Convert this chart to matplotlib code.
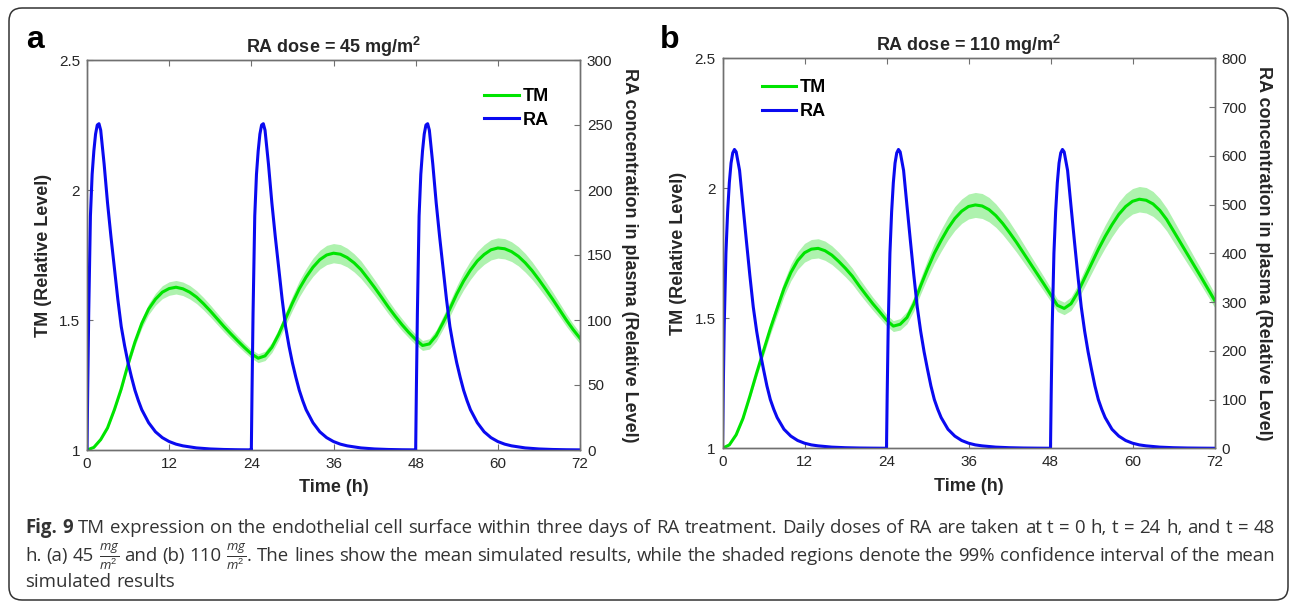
import matplotlib
matplotlib.use("Agg")
import matplotlib.pyplot as plt
from matplotlib.lines import Line2D
from matplotlib.patches import FancyBboxPatch
import numpy as np

# ---- data -----------------------------------------------------------------
hours = list(range(0, 73))

# TM mean (relative level), one value per hour
tm_a = [1.000, 1.010, 1.040, 1.085, 1.155, 1.235, 1.330, 1.415, 1.487, 1.542,
        1.580, 1.607, 1.621, 1.626, 1.620, 1.607, 1.588, 1.563, 1.535, 1.505,
        1.475, 1.447, 1.420, 1.394, 1.370, 1.353, 1.362, 1.395, 1.445, 1.505,
        1.565, 1.620, 1.665, 1.703, 1.732, 1.750, 1.757, 1.753, 1.740, 1.720,
        1.694, 1.660, 1.625, 1.588, 1.550, 1.515, 1.482, 1.452, 1.425, 1.402,
        1.408, 1.440, 1.490, 1.543, 1.600, 1.650, 1.692, 1.727, 1.752, 1.770,
        1.777, 1.774, 1.763, 1.745, 1.720, 1.690, 1.655, 1.618, 1.580, 1.540,
        1.500, 1.463, 1.430]
tm_b = [1.000, 1.013, 1.052, 1.115, 1.200, 1.290, 1.375, 1.460, 1.538, 1.614,
        1.676, 1.722, 1.752, 1.766, 1.769, 1.760, 1.743, 1.719, 1.692, 1.662,
        1.625, 1.590, 1.556, 1.525, 1.493, 1.470, 1.477, 1.503, 1.555, 1.625,
        1.690, 1.750, 1.800, 1.846, 1.884, 1.912, 1.930, 1.936, 1.932, 1.918,
        1.895, 1.865, 1.830, 1.793, 1.753, 1.713, 1.673, 1.633, 1.592, 1.550,
        1.538, 1.556, 1.600, 1.655, 1.710, 1.765, 1.815, 1.860, 1.900, 1.930,
        1.950, 1.958, 1.954, 1.940, 1.915, 1.880, 1.836, 1.792, 1.748, 1.704,
        1.660, 1.615, 1.570]

# half width of the 99% confidence band
ci_a = [0.000, 0.001, 0.002, 0.004, 0.006, 0.009, 0.012, 0.015, 0.018, 0.021,
        0.023, 0.025, 0.026, 0.026, 0.026, 0.026, 0.025, 0.024, 0.023, 0.022,
        0.021, 0.020, 0.019, 0.018, 0.017, 0.017, 0.018, 0.020, 0.022, 0.025,
        0.028, 0.031, 0.033, 0.035, 0.036, 0.037, 0.037, 0.037, 0.036, 0.035,
        0.034, 0.032, 0.030, 0.028, 0.026, 0.024, 0.023, 0.021, 0.020, 0.019,
        0.020, 0.022, 0.025, 0.028, 0.031, 0.034, 0.036, 0.037, 0.038, 0.039,
        0.039, 0.039, 0.038, 0.037, 0.036, 0.034, 0.032, 0.030, 0.028, 0.026,
        0.024, 0.022, 0.021]
ci_b = [0.000, 0.001, 0.003, 0.006, 0.010, 0.014, 0.018, 0.022, 0.026, 0.029,
        0.032, 0.034, 0.036, 0.037, 0.037, 0.037, 0.036, 0.035, 0.033, 0.031,
        0.029, 0.027, 0.025, 0.024, 0.022, 0.021, 0.022, 0.024, 0.027, 0.031,
        0.035, 0.039, 0.042, 0.044, 0.046, 0.047, 0.048, 0.048, 0.048, 0.047,
        0.045, 0.043, 0.041, 0.038, 0.035, 0.032, 0.030, 0.028, 0.026, 0.024,
        0.024, 0.026, 0.029, 0.033, 0.037, 0.041, 0.044, 0.046, 0.048, 0.049,
        0.049, 0.049, 0.049, 0.048, 0.046, 0.044, 0.042, 0.039, 0.036, 0.033,
        0.031, 0.029, 0.027]

# RA plasma concentration after each dose (hours since dose)
dose_times = [0, 24, 48]
since_dose = [0, 0.1, 0.25, 0.5, 0.75, 1.0, 1.25, 1.5, 1.75, 2.0, 2.5, 3.0,
              3.5, 4.0, 4.5, 5.0, 5.5, 6.0, 6.5, 7.0, 7.5, 8, 9, 10, 11, 12,
              13, 14, 16, 18, 20, 22, 24]
ra_a = [0, 45, 105, 180, 212, 230, 243, 250, 251, 246, 220, 190, 164, 140,
        116, 95, 80, 67, 56, 46, 38, 31, 21, 14, 9.5, 6.5, 4.5, 3.2, 1.6, 0.8,
        0.4, 0.2, 0.1]
ra_b = [0, 110, 250, 400, 485, 545, 585, 606, 613, 608, 570, 497, 425, 355,
        290, 240, 198, 162, 128, 100, 80, 63, 39, 25, 16, 10.5, 7, 5, 2.4, 1.2,
        0.6, 0.3, 0.1]

titles = ["RA dose = 45 mg/m$^{\\mathbf{2}}$", "RA dose = 110 mg/m$^{\\mathbf{2}}$"]
ra_max = [300, 800]
ra_step = [50, 100]

caption_lines = [
    "TM expression on the endothelial cell surface within three days of RA "
    "treatment. Daily doses of RA are taken at t = 0 h, t = 24 h, and t = 48",
    "h. (a) 45 $\\frac{mg}{m^2}$ and (b) 110 $\\frac{mg}{m^2}$. The lines show the "
    "mean simulated results, while the shaded regions denote the 99% confidence "
    "interval of the mean",
    "simulated results",
]

# ---- style -----------------------------------------------------------------
plt.rcParams['font.family'] = ['Liberation Sans', 'DejaVu Sans']
plt.rcParams['mathtext.fontset'] = 'custom'
plt.rcParams['mathtext.rm'] = 'Liberation Sans'
plt.rcParams['mathtext.bf'] = 'Liberation Sans:bold'
plt.rcParams['mathtext.it'] = 'Open Sans:italic'

GREEN = "#00e400"
BAND = "#aef2ae"
BLUE = "#0a0af0"
AXC = "#707070"
TXT = "#262626"

W, H = 1292, 603
fig = plt.figure(figsize=(W / 100, H / 100), dpi=100)
renderer = fig.canvas.get_renderer()

# rounded frame around the whole figure
frame = FancyBboxPatch((0.09, 0.03), 12.79, 5.92,
                       boxstyle="round,pad=0,rounding_size=0.13",
                       transform=fig.dpi_scale_trans, facecolor="none",
                       edgecolor="#333333", linewidth=1.1)
fig.add_artist(frame)

positions = [[87 / W, 1 - 450 / H, 493 / W, 390 / H],
             [722.5 / W, 1 - 448.3 / H, 492 / W, 390 / H]]
legend_anchor = [(0.806, 0.928), (0.080, 0.946)]
tm_series = [tm_a, tm_b]
ci_series = [ci_a, ci_b]
ra_series = [ra_a, ra_b]

for i in range(2):
    ax = fig.add_axes(positions[i])
    ax2 = ax.twinx()

    tm = np.array(tm_series[i])
    ci = np.array(ci_series[i])
    ax.fill_between(hours, tm - ci, tm + ci, color=BAND, linewidth=0)
    ax.plot(hours, tm, color=GREEN, linewidth=2.2)

    ra_t = []
    ra_v = []
    for d in dose_times:
        ra_t += [d + s for s in since_dose]
        ra_v += ra_series[i]
    ax2.plot(ra_t, ra_v, color=BLUE, linewidth=2.2)

    ax.set_xlim(0, 72)
    ax.set_ylim(1, 2.5)
    ax2.set_ylim(0, ra_max[i])
    ax.set_xticks(range(0, 73, 12))
    ax.set_yticks([1, 1.5, 2, 2.5])
    ax.set_yticklabels(["1", "1.5", "2", "2.5"])
    ax2.set_yticks(range(0, ra_max[i] + 1, ra_step[i]))

    for a in (ax, ax2):
        for sp in a.spines.values():
            sp.set_color(AXC)
            sp.set_linewidth(1.0)
        a.tick_params(direction="in", length=4, width=0.8, color=AXC,
                      labelsize=11, labelcolor=TXT, pad=5)
    ax.tick_params(axis="x", top=True)
    ax.tick_params(axis="y", right=False)

    ax.set_xlabel("Time (h)", fontsize=13, fontweight="bold", color=TXT,
                  labelpad=6)
    ax.set_ylabel("TM (Relative Level)", fontsize=13, fontweight="bold",
                  color=TXT, labelpad=5)
    ax2.set_ylabel("RA concentration in plasma (Relative Level)", fontsize=13,
                   fontweight="bold", color=TXT, rotation=270, va="bottom",
                   labelpad=6)
    ax.set_title(titles[i], fontsize=13, fontweight="bold", color=TXT, pad=5)

    handles = [Line2D([], [], color=GREEN, linewidth=2.2),
               Line2D([], [], color=BLUE, linewidth=2.2)]
    ax2.legend(handles, ["TM", "RA"], loc="upper left",
               bbox_to_anchor=legend_anchor[i], frameon=False,
               handlelength=1.9, handletextpad=0.2, borderpad=0,
               borderaxespad=0, labelspacing=0.37,
               prop={"weight": "bold", "size": 13})

# panel letters
fig.text(26 / W, 1 - 48 / H, "a", fontsize=23, fontweight="bold", va="baseline")
fig.text(660 / W, 1 - 48 / H, "b", fontsize=23, fontweight="bold", va="baseline")

# ---- caption (justified lines) ----------------------------------------------
cap_font = ["Open Sans", "DejaVu Sans"]
cap_col = "#333333"
cap_size = 13.4
cap_left, cap_right = 25, 1275
cap_base = [533, 561, 587]


def put_words(words, y_px, x0, x1, justify, first_bold=False):
    arts = []
    for k, w in enumerate(words):
        bold = first_bold and k < 2
        arts.append(fig.text(0, 1 - y_px / H, w, fontsize=cap_size,
                             fontweight="bold" if bold else "normal",
                             family=cap_font, color=cap_col, va="baseline"))
    widths = [a.get_window_extent(renderer).width for a in arts]
    probe_ab = fig.text(0, 0, "a b", fontsize=cap_size, family=cap_font)
    probe_a = fig.text(0, 0, "a", fontsize=cap_size, family=cap_font)
    sp_w = (probe_ab.get_window_extent(renderer).width
            - 2 * probe_a.get_window_extent(renderer).width)
    probe_ab.remove()
    probe_a.remove()
    if justify and len(words) > 1:
        gap = (x1 - x0 - sum(widths)) / (len(words) - 1)
    else:
        gap = sp_w
    x = x0
    for a, w in zip(arts, widths):
        a.set_x(x / W)
        x += w + gap


line1 = ["Fig.", "9"] + caption_lines[0].split(" ")
put_words(line1, cap_base[0], cap_left, cap_right, True, first_bold=True)
put_words(caption_lines[1].split(" "), cap_base[1], cap_left, cap_right, True)
put_words(caption_lines[2].split(" "), cap_base[2], cap_left, cap_right, False)

fig.savefig("out.png", dpi=100)
